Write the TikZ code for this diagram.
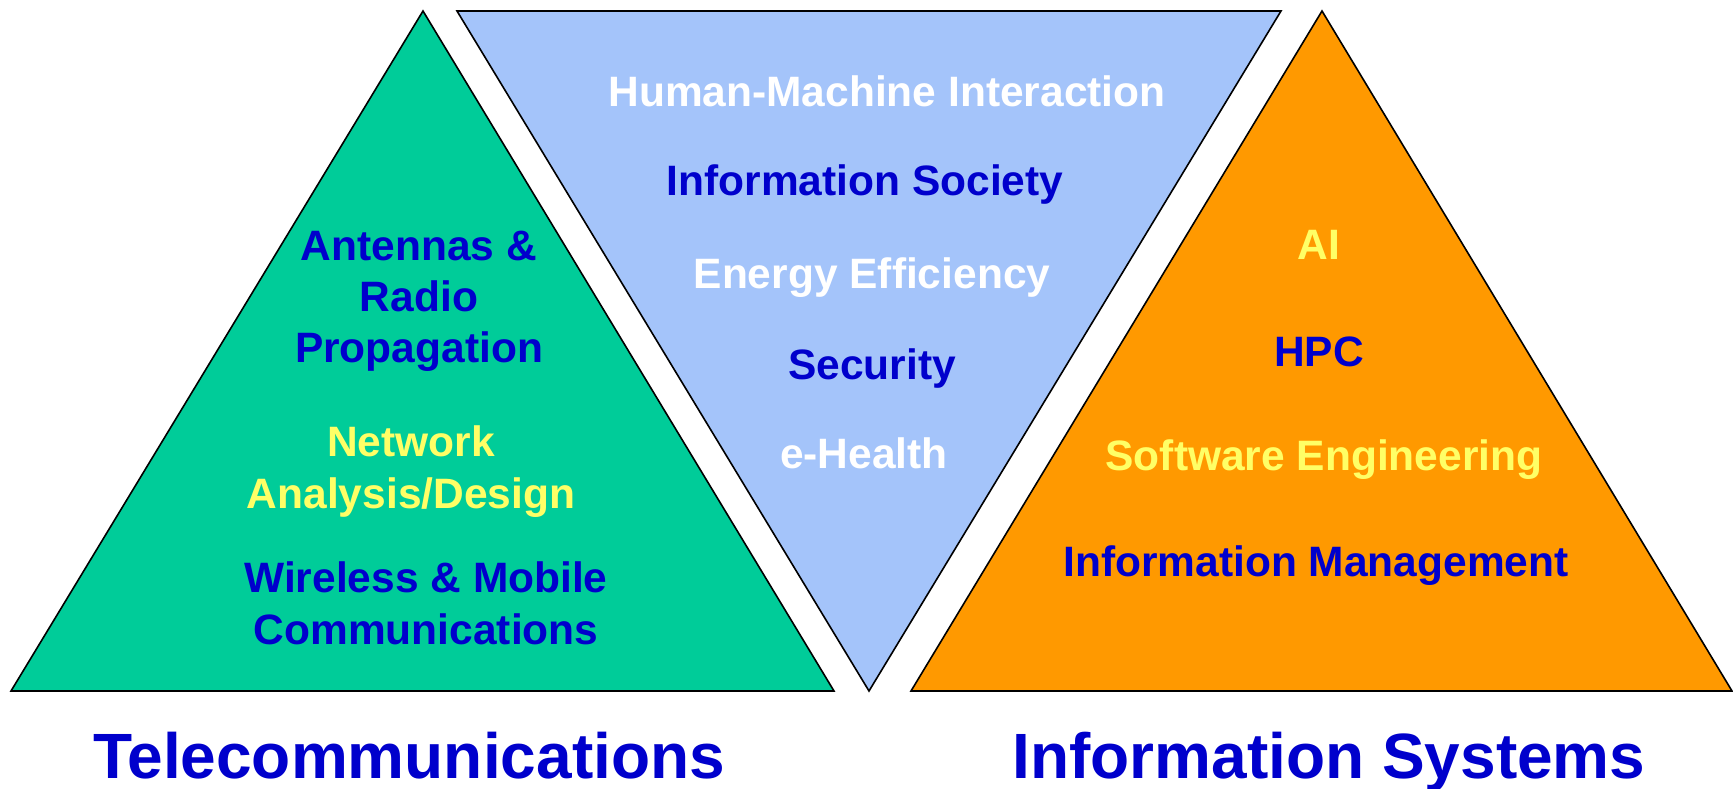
\documentclass[tikz,border=0pt]{standalone}
\usepackage{fontspec}
\setmainfont{Liberation Sans}
\definecolor{tgreen}{RGB}{0,204,153}
\definecolor{tblue}{RGB}{164,196,250}
\definecolor{torange}{RGB}{255,153,0}
\definecolor{txtblue}{RGB}{0,0,204}
\definecolor{txtyellow}{RGB}{255,255,102}
\tikzset{
  tri/.style={draw=black,line width=1.6pt,line join=miter},
  lbl/.style={anchor=base,inner sep=0pt,font=\fontsize{42.5}{51}\selectfont\bfseries},
  ttl/.style={anchor=base,inner sep=0pt,font=\fontsize{64}{76}\selectfont\bfseries,text=txtblue},
  bl/.style={lbl,text=txtblue},
  yl/.style={lbl,text=txtyellow},
  wl/.style={lbl,text=white}
}
\begin{document}
\begin{tikzpicture}[x=1pt,y=-1pt]
\useasboundingbox (0,0) rectangle (1733,789);
% triangles
\draw[tri,fill=tgreen] (423,11) -- (834,691) -- (11,691) -- cycle;
\draw[tri,fill=tblue] (457,11) -- (1281,11) -- (869,691) -- cycle;
\draw[tri,fill=torange] (1322,11) -- (1732,691) -- (911,691) -- cycle;
% left texts
\node[bl] (a1) at (419,260) {Antennas \&};
\node[bl] (a2) at (419,311) {Radio};
\node[bl] (a3) at (419,362) {Propagation};
\node[yl] (n1) at (411,456) {Network};
\node[yl] (n2) at (411,508) {Analysis/Design};
\node[bl] (w1) at (426,592) {Wireless \& Mobile};
\node[bl] (w2) at (426,644) {Communications};
% middle texts
\node[wl] (m1) at (887,107) {Human-Machine Interaction};
\node[bl] (m2) at (865,196) {Information Society};
\node[wl] (m3) at (872,288) {Energy Efficiency};
\node[bl] (m4) at (872,379) {Security};
\node[wl] (m5) at (864,468) {e-Health};
% right texts
\node[yl] (r1) at (1319,259) {AI};
\node[bl] (r2) at (1319,366) {HPC};
\node[yl] (r3) at (1324,470) {Software Engineering};
\node[bl] (r4) at (1316,576) {Information Management};
% titles
\node[ttl] (t1) at (409,778) {Telecommunications};
\node[ttl] (t2) at (1329,778) {Information Systems};
\end{tikzpicture}
\end{document}
